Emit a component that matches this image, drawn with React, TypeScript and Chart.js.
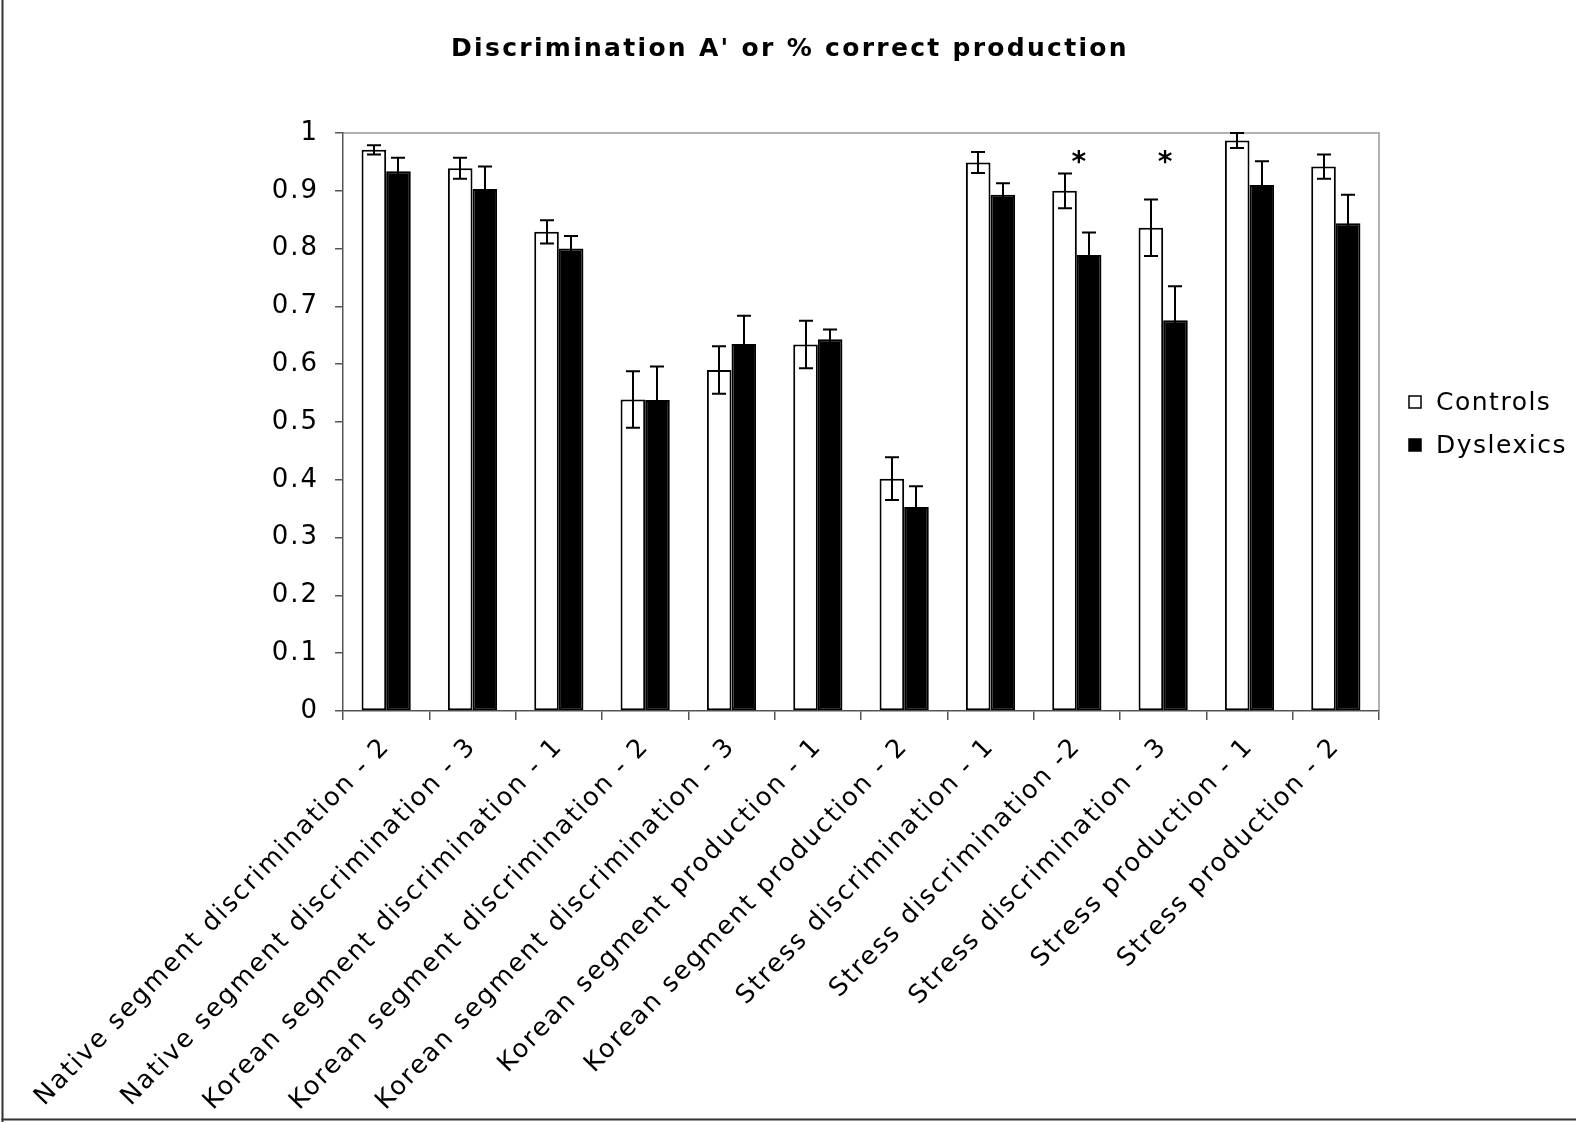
import { useEffect, useRef } from "react";
import { Chart, registerables } from "chart.js";

Chart.register(...registerables);

const title = "Discrimination A' or % correct production";

const categories = [
  "Native segment discrimination - 2",
  "Native segment discrimination - 3",
  "Korean segment discrimination - 1",
  "Korean segment discrimination - 2",
  "Korean segment discrimination - 3",
  "Korean segment production - 1",
  "Korean segment production - 2",
  "Stress discrimination - 1",
  "Stress discrimination -2",
  "Stress discrimination - 3",
  "Stress production - 1",
  "Stress production - 2",
];

const seriesNames = ["Controls", "Dyslexics"];

const controls = [0.971, 0.939, 0.829, 0.539, 0.59, 0.634, 0.402, 0.949, 0.9, 0.836, 0.987, 0.942];
const controlsErr = [0.008, 0.018, 0.02, 0.049, 0.041, 0.041, 0.037, 0.018, 0.03, 0.049, 0.013, 0.021];

const dyslexics = [0.934, 0.903, 0.8, 0.538, 0.635, 0.643, 0.353, 0.893, 0.789, 0.676, 0.91, 0.844];
const dyslexicsErr = [0.023, 0.039, 0.022, 0.058, 0.049, 0.017, 0.036, 0.02, 0.039, 0.059, 0.041, 0.049];

const significance = ["", "", "", "", "", "", "", "", "*", "*", "", ""];
const significanceLevel = 0.958;

const yTickLabels = ["0", "0.1", "0.2", "0.3", "0.4", "0.5", "0.6", "0.7", "0.8", "0.9", "1"];

const FONT = "'DejaVu Sans', Verdana, sans-serif";
const SPACING = "2px";

export default function App() {
  const ref = useRef<HTMLCanvasElement>(null);

  useEffect(() => {
    const canvas = ref.current;
    if (!canvas) return;

    const setSpacing = (chart: any, sp: string = SPACING) => {
      try {
        (chart.ctx as any).letterSpacing = sp;
      } catch (e) {
        /* ignore */
      }
    };

    const errors = [controlsErr, dyslexicsErr];

    const decor = {
      id: "decor",
      beforeUpdate(chart: any) {
        setSpacing(chart);
      },
      beforeDraw(chart: any) {
        setSpacing(chart);
        const { ctx, chartArea: a } = chart;
        ctx.save();
        ctx.fillStyle = "#fff";
        ctx.fillRect(0, 0, chart.width, chart.height);
        // outer frame (left and bottom)
        ctx.fillStyle = "#333";
        ctx.fillRect(1.5, 0, 2, chart.height);
        ctx.fillRect(1.5, 1118.5, chart.width, 2);
        // plot area top & right border
        ctx.strokeStyle = "#999";
        ctx.lineWidth = 1.5;
        ctx.beginPath();
        ctx.moveTo(a.left, a.top);
        ctx.lineTo(a.right, a.top);
        ctx.lineTo(a.right, a.bottom);
        ctx.stroke();
        ctx.restore();
      },
      afterDatasetsDraw(chart: any) {
        const { ctx } = chart;
        const yScale = chart.scales.y;
        const xScale = chart.scales.x;
        ctx.save();
        ctx.strokeStyle = "#000";
        ctx.lineWidth = 2;
        chart.data.datasets.forEach((ds: any, di: number) => {
          const meta = chart.getDatasetMeta(di);
          meta.data.forEach((bar: any, i: number) => {
            const v = ds.data[i];
            const e = errors[di][i];
            const x = Math.round(bar.x);
            const yt = yScale.getPixelForValue(v + e);
            const yb = yScale.getPixelForValue(v - e);
            const cap = 7;
            ctx.beginPath();
            ctx.moveTo(x, yt);
            ctx.lineTo(x, yb);
            ctx.moveTo(x - cap, yt);
            ctx.lineTo(x + cap, yt);
            ctx.moveTo(x - cap, yb);
            ctx.lineTo(x + cap, yb);
            ctx.stroke();
          });
        });
        // significance markers
        ctx.fillStyle = "#000";
        ctx.font = `bold 28px ${FONT}`;
        ctx.textAlign = "center";
        ctx.textBaseline = "alphabetic";
        significance.forEach((s, i) => {
          if (!s) return;
          const m = ctx.measureText(s);
          const asc = m.actualBoundingBoxAscent || 18;
          const desc = m.actualBoundingBoxDescent || 0;
          const cx = xScale.getPixelForValue(i);
          const cy = yScale.getPixelForValue(significanceLevel);
          ctx.fillText(s, cx + 3, cy + (asc - desc) / 2);
        });
        ctx.restore();
      },
      afterDraw(chart: any) {
        const { ctx, chartArea: a } = chart;
        ctx.save();
        // title
        setSpacing(chart, "2.3px");
        ctx.fillStyle = "#000";
        ctx.font = `bold 25px ${FONT}`;
        ctx.textAlign = "center";
        ctx.textBaseline = "middle";
        ctx.fillText(title, 790, 49);
        // legend
        setSpacing(chart, "1.5px");
        ctx.font = `25px ${FONT}`;
        ctx.textAlign = "left";
        const lx = a.right + 30;
        const rows = [402, 445];
        chart.data.datasets.forEach((ds: any, di: number) => {
          const cy = rows[di];
          ctx.fillStyle = ds.backgroundColor;
          ctx.fillRect(lx, cy - 6, 12, 12);
          ctx.strokeStyle = "#000";
          ctx.lineWidth = 1.5;
          ctx.strokeRect(lx, cy - 6, 12, 12);
          ctx.fillStyle = "#000";
          ctx.fillText(ds.label, lx + 27, cy + 1);
        });
        ctx.restore();
        setSpacing(chart);
      },
    };

    const chart = new Chart(canvas, {
      type: "bar",
      data: {
        labels: categories,
        datasets: [
          {
            label: seriesNames[0],
            data: controls,
            backgroundColor: "#ffffff",
            borderColor: "#000000",
            borderWidth: 2,
            borderSkipped: false,
          },
          {
            label: seriesNames[1],
            data: dyslexics,
            backgroundColor: "#000000",
            borderColor: "#000000",
            borderWidth: 2,
            borderSkipped: false,
          },
        ],
      },
      options: {
        responsive: false,
        animation: false,
        devicePixelRatio: 1,
        datasets: { bar: { categoryPercentage: 0.57, barPercentage: 1 } },
        layout: { padding: { left: 0, top: 133, right: 197, bottom: 0 } },
        plugins: {
          legend: { display: false },
          title: { display: false },
          tooltip: { enabled: false },
        },
        scales: {
          x: {
            offset: true,
            grid: {
              offset: true,
              drawOnChartArea: false,
              drawTicks: true,
              tickLength: 9,
              color: "#555",
              lineWidth: 1.5,
            },
            border: { display: true, color: "#555", width: 1.5 },
            ticks: {
              autoSkip: false,
              minRotation: 46,
              maxRotation: 46,
              padding: 12,
              color: "#000",
              font: { family: FONT, size: 25.5 },
            },
            afterFit: (s: any) => {
              s.height = 411;
              s.paddingLeft = 0;
              s.paddingRight = 0;
            },
          } as any,
          y: {
            min: 0,
            max: 1,
            ticks: {
              stepSize: 0.1,
              padding: 16,
              color: "#000",
              font: { family: FONT, size: 26 },
              callback: (v: any) => yTickLabels[Math.round(Number(v) * 10)],
            },
            grid: {
              drawOnChartArea: false,
              drawTicks: true,
              tickLength: 8,
              color: "#555",
              lineWidth: 1.5,
            },
            border: { display: true, color: "#555", width: 1.5 },
            afterFit: (s: any) => {
              s.width = 343;
              s.paddingTop = 0;
              s.paddingBottom = 0;
            },
          } as any,
        },
      },
      plugins: [decor],
    });

    return () => chart.destroy();
  }, []);

  return (
    <div
      style={{
        position: "absolute",
        left: 0,
        top: 0,
        width: 1576,
        height: 1122,
        background: "#fff",
      }}
    >
      <canvas ref={ref} width={1576} height={1122} style={{ display: "block" }} />
    </div>
  );
}
